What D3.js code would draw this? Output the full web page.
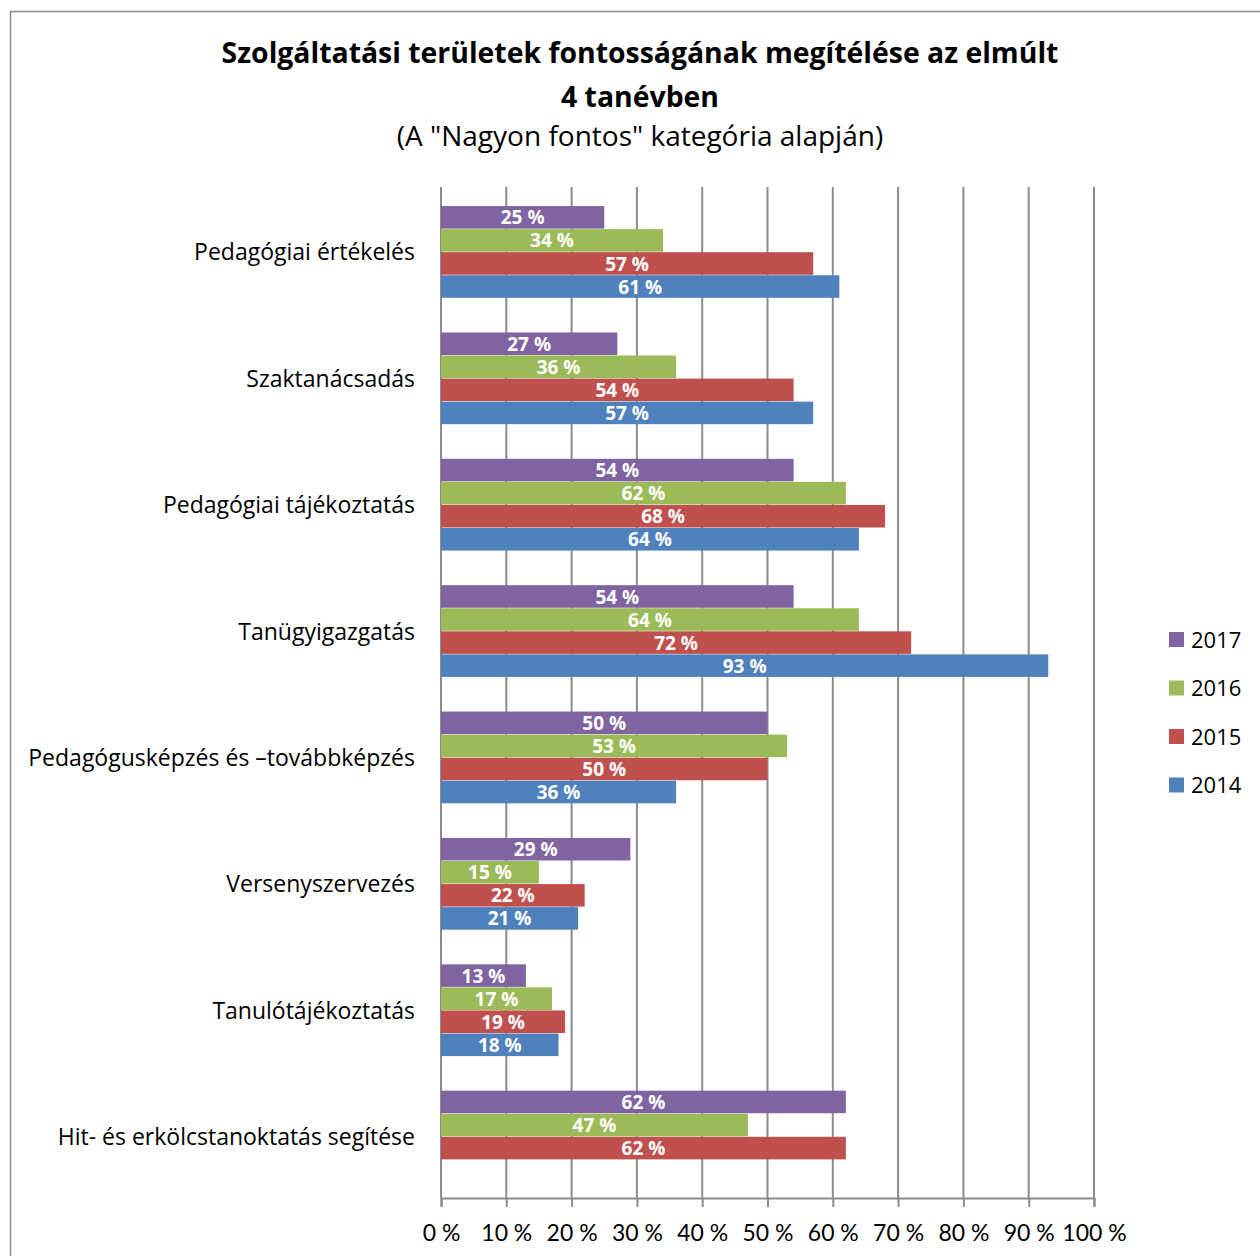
<!DOCTYPE html>
<html><head><meta charset="utf-8">
<script src="https://cdn.jsdelivr.net/npm/d3@7"></script>
<style>body{margin:0;background:#fff}svg{display:block}text{font-family:"Open Sans",Lato,sans-serif}</style>
</head><body>
<script>
const categories = ["Pedagógiai értékelés","Szaktanácsadás","Pedagógiai tájékoztatás","Tanügyigazgatás","Pedagógusképzés és –továbbképzés","Versenyszervezés","Tanulótájékoztatás","Hit- és erkölcstanoktatás segítése"];
const seriesNames = ["2017","2016","2015","2014"];
const v2017 = [25,27,54,54,50,29,13,62];
const v2016 = [34,36,62,64,53,15,17,47];
const v2015 = [57,54,68,72,50,22,19,62];
const v2014 = [61,57,64,93,36,21,18,null];
const colors = ["#8064A2","#9BBB59","#C0504D","#4F81BD"];
const xTicks = [0,10,20,30,40,50,60,70,80,90,100];
const title1 = "Szolgáltatási területek fontosságának megítélése az elmúlt";
const title2 = "4 tanévben";
const subtitle = "(A \"Nagyon fontos\" kategória alapján)";

(function(){
const W=1260,H=1256;
const svg=d3.select("body").append("svg").attr("width",W).attr("height",H);
svg.append("rect").attr("x",10.5).attr("y",11.5).attr("width",1260).attr("height",1260).attr("fill","#fff").attr("stroke","#8c8c8c").attr("stroke-width",1.5);

const pL=441,pR=1094,pT=187,pB=1198;
const x=d3.scaleLinear().domain([0,100]).range([pL,pR]);
const y=d3.scaleBand().domain(categories).range([pT+2,pB+2]).paddingInner(0.27).paddingOuter(0.135);
const ySub=d3.scaleBand().domain(seriesNames).range([0,y.bandwidth()]);
const allSeries=[v2017,v2016,v2015,v2014];

svg.append("g").selectAll("line").data(xTicks).join("line")
 .attr("x1",d=>x(d)).attr("x2",d=>x(d)).attr("y1",pT).attr("y2",pB)
 .attr("stroke","#8c8c8c").attr("stroke-width",2);

const ax=svg.append("g").attr("transform",`translate(0,${pB})`)
 .call(d3.axisBottom(x).tickValues(xTicks).tickFormat(d=>d+" %").tickSize(9).tickPadding(18));
ax.select(".domain").attr("stroke","#8c8c8c").attr("stroke-width",2);
ax.selectAll(".tick line").attr("stroke","#8c8c8c").attr("stroke-width",2);
ax.selectAll("text").attr("font-size",23).attr("fill","#000").style("font-family","Lato");

const groups=svg.append("g").selectAll("g").data(categories).join("g")
 .attr("transform",d=>`translate(0,${y(d)})`);
groups.each(function(cat,ci){
  const g=d3.select(this);
  seriesNames.forEach((s,si)=>{
    const v=allSeries[si][ci];
    if(v==null) return;
    g.append("rect").attr("x",x(0)).attr("y",ySub(s)).attr("width",x(v)-x(0)).attr("height",ySub.bandwidth()-0.5)
     .attr("fill",colors[si]);
    g.append("text").attr("x",(x(0)+x(v))/2).attr("y",ySub(s)+ySub.bandwidth()/2).attr("dy","0.36em")
     .attr("text-anchor","middle").attr("fill","#fff").attr("font-weight","bold").attr("font-size",19).text(v+" %");
  });
});

svg.append("g").selectAll("text").data(categories).join("text")
 .attr("x",415).attr("y",d=>y(d)+y.bandwidth()/2).attr("dy","0.36em").attr("text-anchor","end")
 .attr("font-size",23).attr("fill","#000").text(d=>d);

svg.append("text").attr("x",640).attr("y",63).attr("text-anchor","middle").attr("font-weight","bold").attr("font-size",28.4).text(title1);
svg.append("text").attr("x",640).attr("y",107).attr("text-anchor","middle").attr("font-weight","bold").attr("font-size",28.4).text(title2);
svg.append("text").attr("x",640).attr("y",146).attr("text-anchor","middle").attr("font-size",28).text(subtitle);

const leg=svg.append("g").selectAll("g").data(seriesNames).join("g")
 .attr("transform",(d,i)=>`translate(1169,${640+i*48.5})`);
leg.append("rect").attr("x",0).attr("y",-8).attr("width",15).attr("height",15).attr("fill",(d,i)=>colors[i]);
leg.append("text").attr("x",22).attr("y",0).attr("dy","0.36em").attr("font-size",22).text(d=>d);
})();
</script>
</body></html>
